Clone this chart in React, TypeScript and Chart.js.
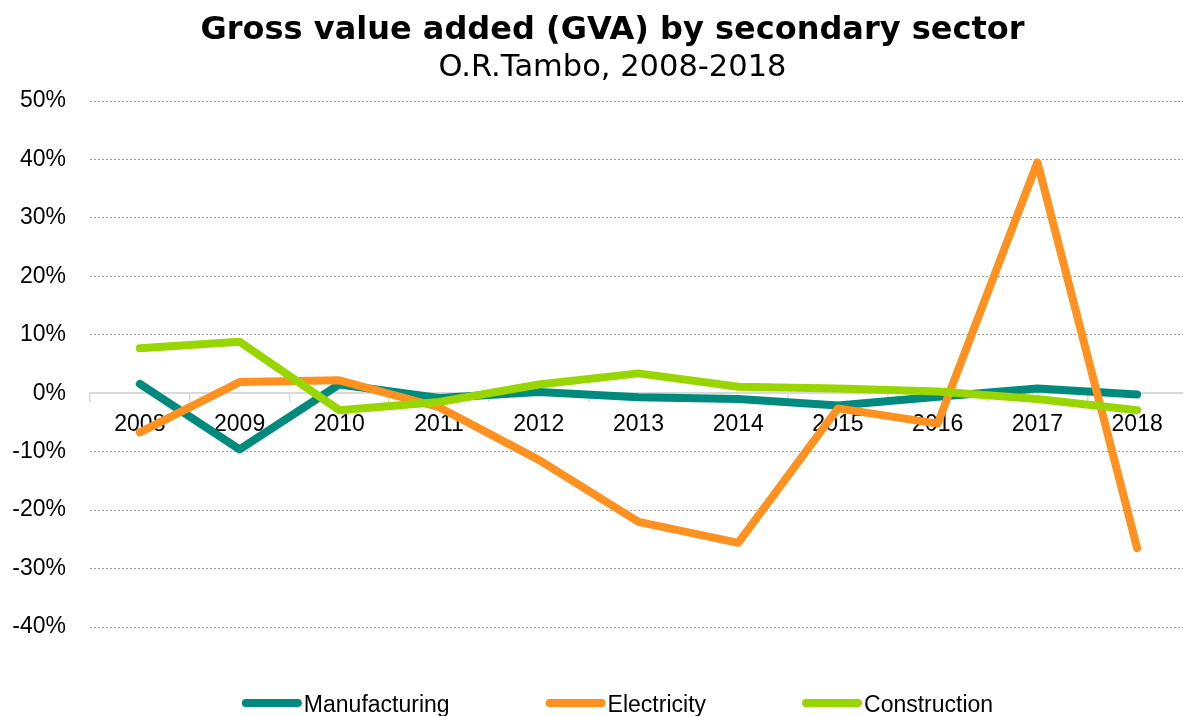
import React, { useEffect, useRef } from 'react';
import { Chart, registerables } from 'chart.js';

Chart.register(...registerables);

const years = ['2008', '2009', '2010', '2011', '2012', '2013', '2014', '2015', '2016', '2017', '2018'];
const manufacturing = [1.6, -9.6, 1.5, -0.8, 0.2, -0.7, -1.0, -2.1, -0.6, 0.8, -0.2];
const electricity = [-6.7, 1.9, 2.2, -2.4, -11.4, -22.0, -25.6, -2.6, -5.2, 39.5, -26.5];
const construction = [7.7, 8.8, -2.9, -1.5, 1.5, 3.4, 1.1, 0.8, 0.3, -1.0, -2.9];
const yMin = -40;
const yMax = 50;
const yStep = 10;

const NARROW = "'Liberation Sans Narrow', 'Arial Narrow', 'Liberation Sans', Arial, sans-serif";
const LABEL_SIZE = 23;

const bottomLegend = {
  id: 'bottomLegend',
  afterDraw(chart: any) {
    const ctx = chart.ctx;
    const items = chart.data.datasets;
    ctx.save();
    ctx.font = `${LABEL_SIZE}px ${NARROW}`;
    const lineLen = 60;
    const textGap = 2;
    const itemGap = 96;
    const widths = items.map((d: any) => ctx.measureText(d.label).width);
    const total = widths.reduce((a: number, w: number) => a + lineLen + textGap + w, 0) + itemGap * (items.length - 1);
    const center = (chart.chartArea.left + chart.chartArea.right) / 2 - 21;
    let x = center - total / 2;
    const y = 703;
    items.forEach((d: any, i: number) => {
      ctx.strokeStyle = d.borderColor;
      ctx.lineWidth = 8;
      ctx.lineCap = 'round';
      ctx.beginPath();
      ctx.moveTo(x + 4, y);
      ctx.lineTo(x + lineLen - 4, y);
      ctx.stroke();
      ctx.fillStyle = '#000';
      ctx.textBaseline = 'alphabetic';
      ctx.textAlign = 'left';
      ctx.fillText(d.label, x + lineLen + textGap, y + 9);
      x += lineLen + textGap + widths[i] + itemGap;
    });
    ctx.restore();
  },
};

export default function App() {
  const ref = useRef<HTMLCanvasElement | null>(null);

  useEffect(() => {
    if (!ref.current) return;
    const common = {
      borderWidth: 8,
      pointRadius: 0,
      pointHoverRadius: 0,
      tension: 0,
      borderCapStyle: 'round',
      borderJoinStyle: 'round',
      fill: false,
    };
    const chart = new Chart(ref.current, {
      type: 'line',
      data: {
        labels: years,
        datasets: [
          { ...common, label: 'Manufacturing', data: manufacturing, borderColor: '#008A7E', backgroundColor: '#008A7E', order: 3 },
          { ...common, label: 'Electricity', data: electricity, borderColor: '#FF9120', backgroundColor: '#FF9120', order: 2 },
          { ...common, label: 'Construction', data: construction, borderColor: '#99D600', backgroundColor: '#99D600', order: 1 },
        ],
      } as any,
      options: {
        responsive: true,
        maintainAspectRatio: false,
        animation: false,
        layout: { padding: { left: 0, right: 1, top: 0, bottom: 89 } },
        plugins: {
          legend: { display: false },
          tooltip: { enabled: false },
          title: {
            display: true,
            text: 'Gross value added (GVA) by secondary sector',
            color: '#000',
            font: { family: "'DejaVu Sans', Verdana, sans-serif", size: 32, weight: 'bold' },
            padding: { top: 11, bottom: 0 },
          },
          subtitle: {
            display: true,
            text: 'O.R.Tambo, 2008-2018',
            color: '#000',
            font: { family: "'DejaVu Sans', Verdana, sans-serif", size: 30.5, weight: 'normal' },
            padding: { top: 0, bottom: 15 },
          },
        },
        scales: {
          x: {
            type: 'category',
            position: { y: 0 },
            offset: true,
            grid: {
              offset: true,
              drawOnChartArea: false,
              drawTicks: true,
              tickLength: 8,
              color: '#d9d9d9',
              lineWidth: 1.5,
            },
            border: { display: true, color: '#d9d9d9', width: 2 },
            ticks: {
              color: '#000',
              font: { family: NARROW, size: LABEL_SIZE },
              padding: 10,
              maxRotation: 0,
              autoSkip: false,
            },
          },
          y: {
            min: yMin,
            max: yMax,
            ticks: {
              stepSize: yStep,
              color: '#000',
              font: { family: NARROW, size: LABEL_SIZE },
              padding: 24,
              callback: (v: any) => `${v}%`,
            },
            grid: {
              drawTicks: false,
              lineWidth: 1,
              color: (c: any) => (c.tick && c.tick.value === 0 ? 'rgba(0,0,0,0)' : '#9a9a9a'),
            },
            border: { display: false, dash: [2, 2] },
            afterFit: (s: any) => {
              s.width = 90;
            },
          },
          yRight: {
            type: 'linear',
            position: 'right',
            min: yMin,
            max: yMax,
            grid: { display: false, drawTicks: false },
            border: { display: false },
            ticks: { display: false },
            afterFit: (s: any) => {
              s.width = 38;
            },
          },
        },
      } as any,
      plugins: [bottomLegend],
    });
    return () => chart.destroy();
  }, []);

  return (
    <div style={{ position: 'fixed', left: 0, top: 0, width: 1226, height: 716, background: '#fff' }}>
      <canvas ref={ref} />
    </div>
  );
}
